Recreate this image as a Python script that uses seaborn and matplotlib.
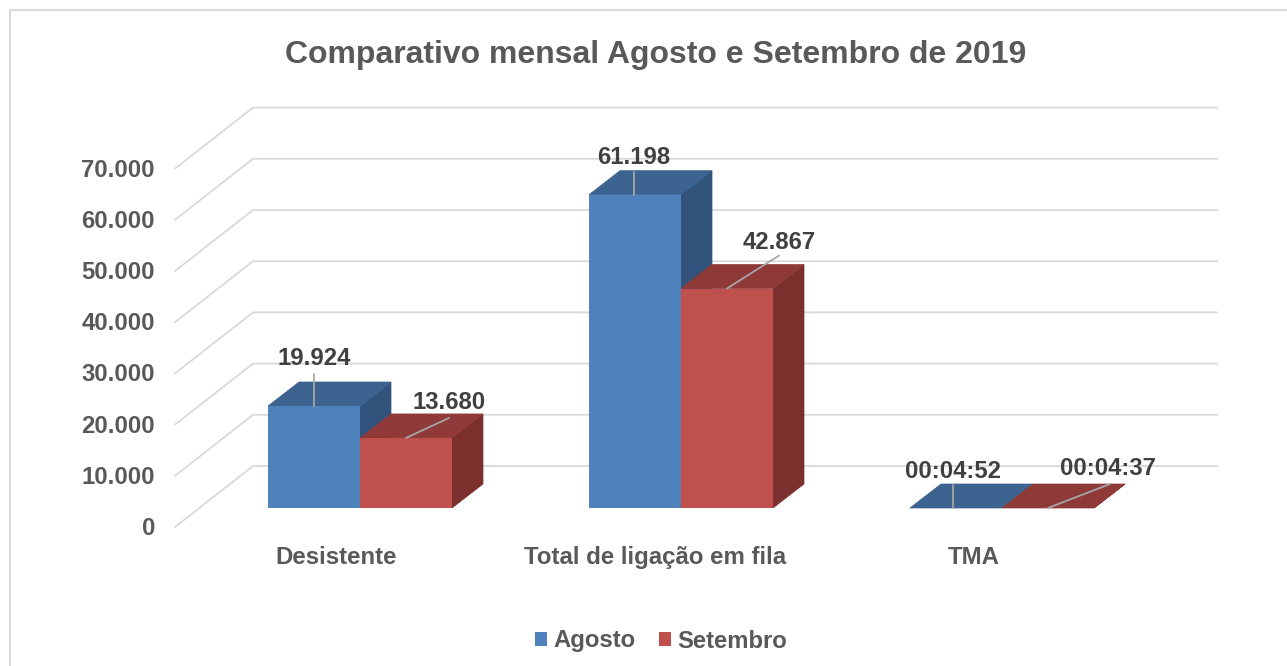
import pandas as pd
import matplotlib
matplotlib.use("Agg")
import matplotlib.pyplot as plt
from matplotlib.patches import Polygon
import seaborn as sns

# Data
categorias = ["Desistente", "Total de ligação em fila", "TMA"]
agosto = [19924, 61198, 292 / 86400]    # TMA is a time, stored as fraction of a day
setembro = [13680, 42867, 277 / 86400]
rotulos_agosto = ["19.924", "61.198", "00:04:52"]
rotulos_setembro = ["13.680", "42.867", "00:04:37"]
ticks = [0, 10000, 20000, 30000, 40000, 50000, 60000, 70000]
tick_labels = ["0", "10.000", "20.000", "30.000", "40.000", "50.000", "60.000", "70.000"]

df = pd.DataFrame({
    "categoria": categorias * 2,
    "mes": ["Agosto"] * 3 + ["Setembro"] * 3,
    "valor": agosto + setembro,
})

AZUL, VERMELHO = "#4F81BD", "#C0504D"
TOPO = {0: "#3D6390", 1: "#8F3A38"}
LADO = {0: "#32537B", 1: "#7B302E"}
CINZA = "#595959"
ESCURO = "#404040"
GRADE = "#D9D9D9"
LIDER = "#A6A6A6"

# Pixel scale of the front plane of the bars
PX_CAT = 321.0
PX_VAL = 0.00512
X0, Y0 = 360.0, 508.0


def xd(px):
    return (px - X0) / PX_CAT


def yd(py):
    return (Y0 - py) / PX_VAL


sns.set_theme(style="white")
plt.rcParams["font.family"] = ["Liberation Sans", "DejaVu Sans"]
plt.rcParams["font.weight"] = "bold"

fig = plt.figure(figsize=(12.87, 6.66), dpi=100)
ax = fig.add_axes([0, 0, 1, 1])

sns.barplot(data=df, x="categoria", y="valor", hue="mes",
            palette=[AZUL, VERMELHO], width=184 / PX_CAT, gap=0,
            saturation=1, linewidth=0, ax=ax, zorder=5)
ax.set_xlim(xd(0), xd(1287))
ax.set_ylim(yd(666), yd(0))

# Walls: depth lines on the left, back lines across
for t, lab in zip(ticks, tick_labels):
    frente = t - 19 / PX_VAL
    fundo = t + 42 / PX_VAL
    ax.plot([xd(175), xd(253), xd(1217)], [frente, fundo, fundo],
            color=GRADE, lw=1.3, zorder=1, solid_joinstyle="miter")
    ax.text(xd(155), frente + 1 / PX_VAL, lab, ha="right", va="center_baseline",
            fontsize=17.2, color=CINZA)

# Fake 3D: top and side faces on every bar
dx, dy = 31 / PX_CAT, 24 / PX_VAL
for s, cont in enumerate(ax.containers):
    for i, bar in enumerate(cont):
        x0, x1 = bar.get_x(), bar.get_x() + bar.get_width()
        h = bar.get_height()
        z = 3 + 3 * s
        bar.set_zorder(z + 1)
        topo = [(x0, h), (x1, h), (x1 + dx, h + dy), (x0 + dx, h + dy)]
        lado = [(x1, 0), (x1 + dx, dy), (x1 + dx, h + dy), (x1, h)]
        ax.add_patch(Polygon(lado, fc=LADO[s], ec=LADO[s], lw=0.5, zorder=z))
        ax.add_patch(Polygon(topo, fc=TOPO[s], ec=TOPO[s], lw=0.5, zorder=z))

# Data labels with leader lines: label centre and leader end, in px from the bar top
pos_rotulos = [[(0, 50), (-1, 40), (-3, 39)], [(43, 38), (52, 49), (60, 42)]]
fim_lider = [[(0, 32), (-1, 23), (-3, 23)], [(43, 20), (52, 33), (62, 24)]]
textos = [rotulos_agosto, rotulos_setembro]
for s, cont in enumerate(ax.containers):
    for i, bar in enumerate(cont):
        cx = bar.get_x() + bar.get_width() / 2
        h = bar.get_height()
        ex, ey = fim_lider[s][i]
        # Agosto leaders are vertical, Setembro ones lean to the right
        inicio = cx + (ex if s == 0 else 0) / PX_CAT
        ax.plot([inicio, cx + ex / PX_CAT], [h, h + ey / PX_VAL], color=LIDER,
                lw=1.3, zorder=10)
        lx, ly = pos_rotulos[s][i]
        ax.text(cx + lx / PX_CAT, h + ly / PX_VAL, textos[s][i], ha="center",
                va="center_baseline", fontsize=17.2, color=ESCURO, zorder=11)

# Category labels sit to the left of the group centre
for i, cat in enumerate(categorias):
    ax.text(i * 319 / PX_CAT - 24 / PX_CAT, yd(555), cat, ha="center",
            va="center_baseline", fontsize=17.3, color=CINZA)

ax.text(xd(656), yd(52), "Comparativo mensal Agosto e Setembro de 2019",
        ha="center", va="center_baseline", fontsize=23, color=CINZA)

sns.move_legend(ax, "center", bbox_to_anchor=(661 / 1287, 1 - 641 / 666), ncol=2,
                title=None, frameon=False, fontsize=17.2, handlelength=0.5,
                handleheight=0.5, handletextpad=0.25, columnspacing=1.0,
                labelcolor=CINZA)

ax.set_axis_off()

# Chart frame: only the left and top edges show in the crop
ax.plot([xd(10), xd(10), xd(1287)], [yd(666), yd(10), yd(10)], color=GRADE,
        lw=1.4, zorder=0, solid_joinstyle="miter")

fig.savefig("out.png", dpi=100)
plt.close(fig)
